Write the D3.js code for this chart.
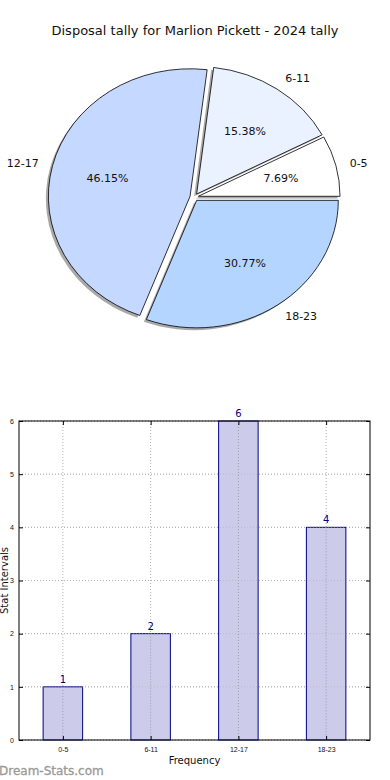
<!DOCTYPE html>
<html>
<head>
<meta charset="utf-8">
<script src="https://cdn.jsdelivr.net/npm/d3@7"></script>
<style>
  body { margin: 0; background: #fff; }
  svg { display: block; font-family: "DejaVu Sans", sans-serif; }
</style>
</head>
<body>
<svg id="chart" width="390" height="780"></svg>
<script>
const title = "Disposal tally for Marlion Pickett - 2024 tally";
const categories = ["0-5", "6-11", "12-17", "18-23"];
const counts = [1, 2, 6, 4];
const sliceColors = ["#ffffff", "#eaf1ff", "#c5d8ff", "#b4d5ff"];
const yTicks = [0, 1, 2, 3, 4, 5, 6];

const svg = d3.select("#chart");

svg.append("text").attr("x", 195).attr("y", 35).attr("text-anchor", "middle")
  .style("font-size", "13px").attr("fill", "#111").text(title);

// pie (matplotlib style: counter-clockwise from east, elliptical, exploded)
const cx = 194.2, cy = 197.2, rx = 141.7, ry = 127.5, explode = 0.03;
const sy = ry / rx;
const total = d3.sum(counts);
const pie = d3.pie().sort(null).startAngle(Math.PI / 2).endAngle(Math.PI / 2 - 2 * Math.PI);
const arcs = pie(counts);
const arc = d3.arc().innerRadius(0).outerRadius(rx);

const pieG = svg.append("g");
function offset(d) {
  const m = (d.startAngle + d.endAngle) / 2;
  return [Math.sin(m), -Math.cos(m)];
}

// shadows
pieG.selectAll("path.shadow").data(arcs).join("path")
  .attr("class", "shadow")
  .attr("transform", d => {
    const [ux, uy] = offset(d);
    return `translate(${cx + ux * explode * rx - 2.5},${cy + uy * explode * ry + 2.3}) scale(1,${sy})`;
  })
  .attr("d", arc).attr("fill", "#8c8c8c").attr("opacity", 0.75);

pieG.selectAll("path.slice").data(arcs).join("path")
  .attr("class", "slice")
  .attr("transform", d => {
    const [ux, uy] = offset(d);
    return `translate(${cx + ux * explode * rx},${cy + uy * explode * ry}) scale(1,${sy})`;
  })
  .attr("d", arc)
  .attr("fill", (d, i) => sliceColors[i])
  .attr("stroke", "#000").attr("stroke-width", 0.8)
  .attr("vector-effect", "non-scaling-stroke")
  .style("stroke-linejoin", "round");

arcs.forEach((d, i) => {
  const [ux, uy] = offset(d);
  const ox = cx + ux * explode * rx, oy = cy + uy * explode * ry;
  pieG.append("text")
    .attr("x", ox + ux * 1.1 * rx).attr("y", oy + uy * 1.1 * ry)
    .attr("dy", "0.35em")
    .attr("text-anchor", ux >= 0 ? "start" : "end")
    .style("font-size", "11px").attr("fill", "#111").text(categories[i]);
  pieG.append("text")
    .attr("x", ox + ux * 0.6 * rx).attr("y", oy + uy * 0.6 * ry)
    .attr("dy", "0.35em").attr("text-anchor", "middle")
    .style("font-size", "11px").attr("fill", "#111")
    .text((counts[i] / total * 100).toFixed(2) + "%");
});

// bar chart
const m = { left: 19, right: 370, top: 421, bottom: 740 };
const x = d3.scaleLinear().domain([-0.5, categories.length - 0.5]).range([m.left, m.right]);
const y = d3.scaleLinear().domain([0, 6]).range([m.bottom, m.top]);
const bw = (x(1) - x(0)) * 0.45;

const g = svg.append("g");
const grid = "#b0b0b0";
g.selectAll("line.hg").data(yTicks).join("line")
  .attr("x1", m.left).attr("x2", m.right).attr("y1", d => y(d)).attr("y2", d => y(d))
  .attr("stroke", grid).attr("stroke-dasharray", "1,2");
g.selectAll("line.vg").data(categories).join("line")
  .attr("x1", (d, i) => x(i)).attr("x2", (d, i) => x(i)).attr("y1", m.top).attr("y2", m.bottom)
  .attr("stroke", grid).attr("stroke-dasharray", "1,2");

g.selectAll("rect.bar").data(counts).join("rect")
  .attr("x", (d, i) => x(i) - bw / 2).attr("width", bw)
  .attr("y", d => y(d)).attr("height", d => y(0) - y(d))
  .attr("fill", "#ccccea").attr("stroke", "#000080").attr("stroke-width", 1);

// grid drawn over bars too, as in the reference
g.selectAll("line.vg2").data(counts).join("line")
  .attr("x1", (d, i) => x(i)).attr("x2", (d, i) => x(i)).attr("y1", d => y(d)).attr("y2", m.bottom)
  .attr("stroke", "#9a9aaa").attr("stroke-dasharray", "1,2");
g.selectAll("line.hg2").data(yTicks).join("line")
  .attr("x1", m.left).attr("x2", m.right).attr("y1", d => y(d)).attr("y2", d => y(d))
  .attr("stroke", grid).attr("stroke-dasharray", "1,2").attr("opacity", 0.6);

g.selectAll("text.val").data(counts).join("text")
  .attr("x", (d, i) => x(i)).attr("y", d => y(d) - 4)
  .attr("text-anchor", "middle").style("font-size", "10px").attr("fill", "#000080")
  .text(d => d);

g.append("rect").attr("x", m.left).attr("y", m.top)
  .attr("width", m.right - m.left).attr("height", m.bottom - m.top)
  .attr("fill", "none").attr("stroke", "#000").attr("stroke-width", 1);

const yAxis = d3.axisLeft(y).tickValues(yTicks).tickSize(-4).tickPadding(5).tickFormat(d3.format("d"));
const yG = g.append("g").attr("transform", `translate(${m.left},0)`).call(yAxis);
yG.select(".domain").remove();
yG.selectAll("text").style("font-size", "7px").attr("fill", "#111");
const yR = g.append("g").attr("transform", `translate(${m.right},0)`).call(d3.axisRight(y).tickValues(yTicks).tickSize(-4).tickFormat(""));
yR.select(".domain").remove();

const xAxis = d3.axisBottom(x).tickValues(d3.range(categories.length)).tickSize(-4).tickPadding(7)
  .tickFormat(i => categories[i]);
const xG = g.append("g").attr("transform", `translate(0,${m.bottom})`).call(xAxis);
xG.select(".domain").remove();
xG.selectAll("text").style("font-size", "7px").attr("fill", "#111");
const xT = g.append("g").attr("transform", `translate(0,${m.top})`).call(d3.axisTop(x).tickValues(d3.range(categories.length)).tickSize(-4).tickFormat(""));
xT.select(".domain").remove();

svg.append("text").attr("x", (m.left + m.right) / 2).attr("y", 764).attr("text-anchor", "middle")
  .style("font-size", "10px").attr("fill", "#111").text("Frequency");
svg.append("text").attr("transform", `translate(4,${(m.top + m.bottom) / 2}) rotate(-90)`)
  .attr("text-anchor", "middle").attr("dy", "0.35em")
  .style("font-size", "10px").attr("fill", "#111").text("Stat Intervals");

svg.append("text").attr("x", -1).attr("y", 775)
  .style("font-size", "12px").attr("fill", "#999").attr("stroke", "#999").attr("stroke-width", 0.3)
  .text("Dream-Stats.com");
</script>
</body>
</html>
